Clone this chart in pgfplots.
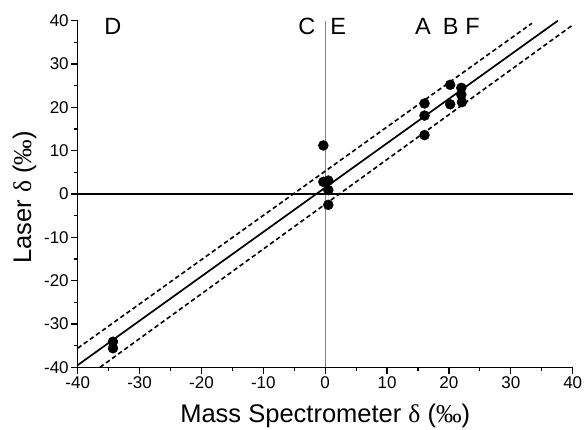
\documentclass[border=0pt]{standalone}
\usepackage{fontspec}
\setmainfont{Liberation Sans}
\newfontfamily\seriffont{Liberation Serif}
\usepackage{pgfplots}
\pgfplotsset{compat=1.18}
\begin{document}
\begin{tikzpicture}
\useasboundingbox (-77.7pt,-62.7pt) rectangle (507.3pt,367.3pt);
\begin{axis}[
  at={(0,0)}, anchor=south west,
  scale only axis, width=495pt, height=346.6pt,
  xmin=-40, xmax=40, ymin=-40, ymax=40,
  axis x line*=bottom, axis y line*=left,
  axis line style={line width=1.4pt, -},
  xtick={-40,-30,...,40}, ytick={-40,-30,...,40},
  minor tick num=1,
  tick align=outside,
  major tick length=6.5pt, minor tick length=3.3pt,
  tick style={line width=1.2pt, black},
  /pgf/number format/assume math mode=true,
  tick label style={font=\fontsize{17}{20}\selectfont},
  xticklabel style={yshift=1pt},
  yticklabel style={xshift=1pt},
  xlabel={Mass Spectrometer {\seriffont δ} ({\seriffont ‰})},
  ylabel={Laser {\seriffont δ} ({\seriffont ‰})},
  xlabel style={font=\fontsize{25.5}{30}\selectfont, at={(axis description cs:0.5,-0.1405)}, anchor=center},
  ylabel style={font=\fontsize{25.5}{30}\selectfont, at={(axis description cs:-0.1075,0.49)}, anchor=center, rotate=0},
  clip=false,
]
% zero lines
\addplot[gray, line width=0.9pt] coordinates {(0,-40) (0,40)};
\addplot[black, line width=1.1pt] coordinates {(-40,0) (40,0)};
% fit and bands
\addplot[black, line width=1.7pt] coordinates {(-40,-39.5) (37.6,40)};
\addplot[black, line width=1.6pt, dash pattern=on 4.5pt off 3pt] coordinates {(-40,-35.6) (33.4,39.4)};
\addplot[black, line width=1.6pt, dash pattern=on 4.5pt off 3pt] coordinates {(-36.4,-40) (40,39)};
% data
\addplot[only marks, mark=*, mark size=5pt, mark options={fill=black, draw=black}] coordinates {
  (-34.3,-34.1) (-34.3,-35.6)
  (-0.3,11.2) (-0.3,2.8) (0.5,3.1) (0.5,0.9) (0.5,-2.5)
  (16.05,20.9) (16.05,18.1) (16.05,13.6)
  (20.2,25.2) (20.2,20.7)
  (22.0,24.5) (22.0,22.9) (22.1,21.2)
};
\node[font=\fontsize{23.5}{28}\selectfont] at (axis cs:-34.3,38.6) {D};
\node[font=\fontsize{23.5}{28}\selectfont] at (axis cs:-2.96,38.6) {C};
\node[font=\fontsize{23.5}{28}\selectfont] at (axis cs:2.1,38.6) {E};
\node[font=\fontsize{23.5}{28}\selectfont] at (axis cs:15.8,38.6) {A};
\node[font=\fontsize{23.5}{28}\selectfont] at (axis cs:20.3,38.6) {B};
\node[font=\fontsize{23.5}{28}\selectfont] at (axis cs:23.8,38.6) {F};
\end{axis}
\end{tikzpicture}
\end{document}
